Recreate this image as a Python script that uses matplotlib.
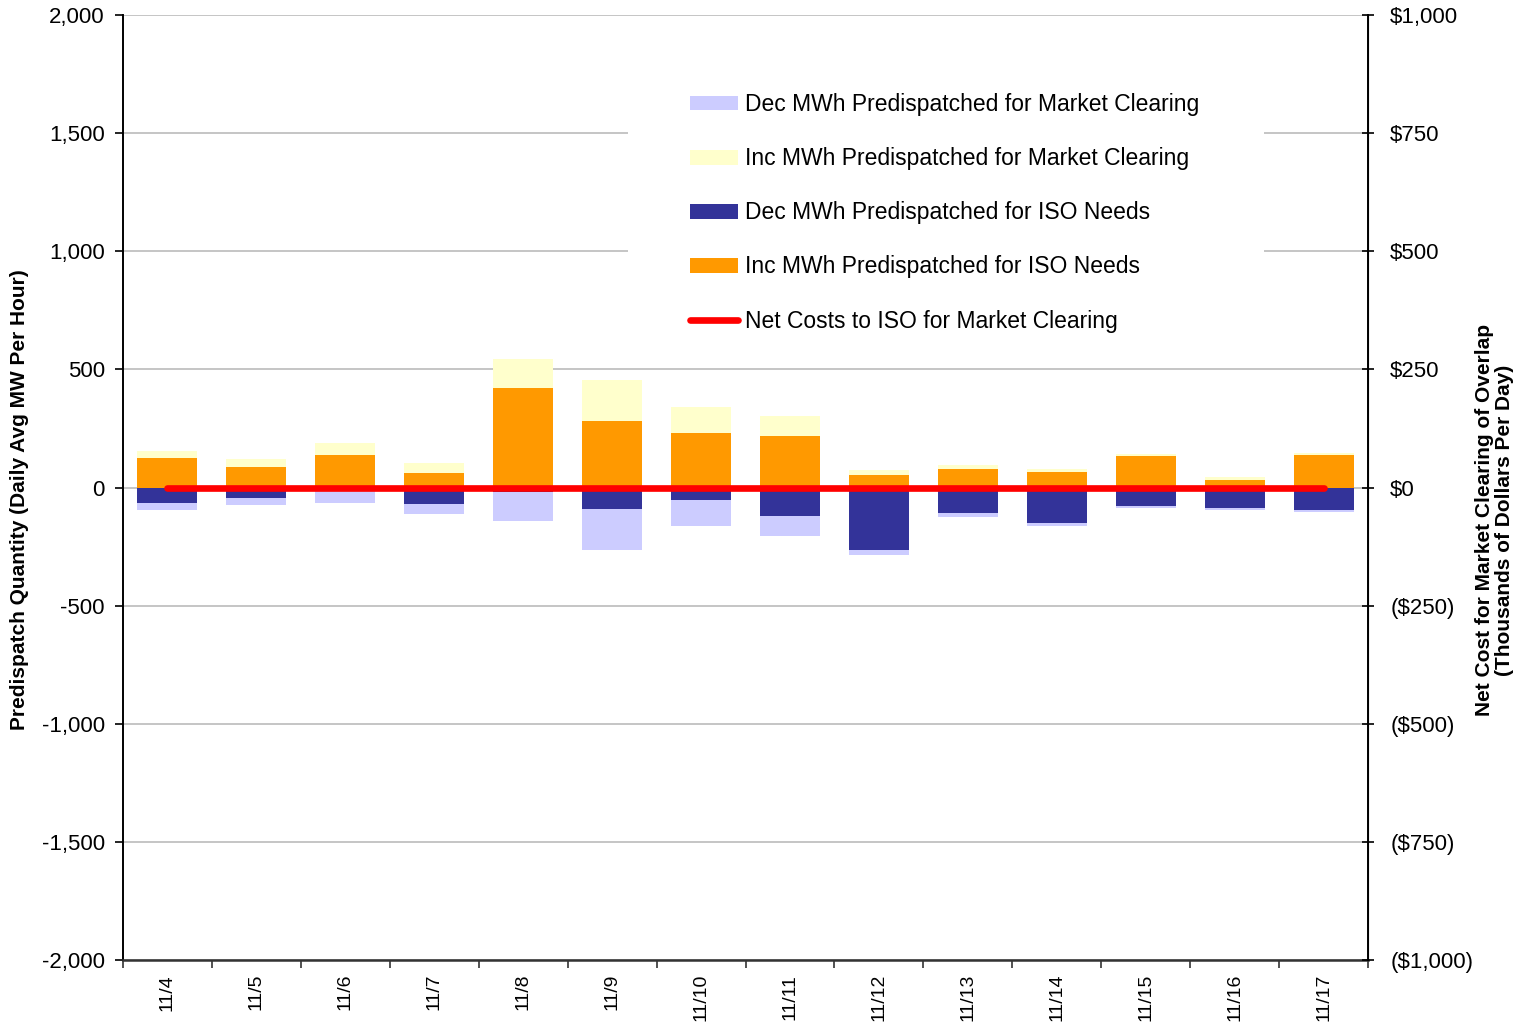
import matplotlib
matplotlib.use("Agg")
import matplotlib.pyplot as plt
import numpy as np
from matplotlib.patches import Patch, Rectangle
from matplotlib.lines import Line2D
from matplotlib.ticker import FuncFormatter, MultipleLocator, FixedLocator

plt.rcParams['font.family'] = ['Liberation Sans', 'DejaVu Sans']

categories = ['11/4', '11/5', '11/6', '11/7', '11/8', '11/9', '11/10',
              '11/11', '11/12', '11/13', '11/14', '11/15', '11/16', '11/17']
inc_iso = [125, 87, 138, 62, 421, 281, 231, 218, 53, 79, 66, 134, 32, 138]
inc_mc = [30, 34, 49, 42, 122, 175, 110, 85, 22, 17, 13, 7, 13, 6]
dec_iso = [-65, -44, -5, -69, -17, -90, -52, -120, -263, -107, -149, -77, -86, -94]
dec_mc = [-29, -29, -60, -42, -124, -173, -110, -84, -21, -17, -13, -9, -8, -9]
net_cost = [0, 0, 0, 0, 0, 0, 0, 0, 0, 0, 0, 0, 0, 0]

labels = ['Dec MWh Predispatched for Market Clearing',
          'Inc MWh Predispatched for Market Clearing',
          'Dec MWh Predispatched for ISO Needs',
          'Inc MWh Predispatched for ISO Needs',
          'Net Costs to ISO for Market Clearing']
c_dec_mc = '#CCCCFF'
c_inc_mc = '#FFFFCC'
c_dec_iso = '#333399'
c_inc_iso = '#FF9900'
c_net = '#FF0000'

fig = plt.figure(figsize=(15.37, 10.25), dpi=100)
ax = fig.add_axes([123/1537, 1-960/1025, (1368-123)/1537, (960-15)/1025])

x = np.arange(len(categories))
w = 0.675
ax.bar(x, inc_iso, w, color=c_inc_iso, zorder=2)
ax.bar(x, inc_mc, w, bottom=inc_iso, color=c_inc_mc, zorder=2)
ax.bar(x, dec_iso, w, color=c_dec_iso, zorder=2)
ax.bar(x, dec_mc, w, bottom=dec_iso, color=c_dec_mc, zorder=2)

ax.set_xlim(-0.5, len(categories) - 0.5)
ax.set_ylim(-2000, 2000)
ax.yaxis.set_major_locator(MultipleLocator(500))
ax.yaxis.set_major_formatter(FuncFormatter(lambda v, p: f"{v:,.0f}"))
ax.grid(axis='y', color='#C0C0C0', linewidth=1.3, zorder=0.5)
ax.set_axisbelow(True)

ax.xaxis.set_major_locator(FixedLocator(np.arange(-0.5, len(categories), 1.0)))
ax.xaxis.set_major_formatter(FuncFormatter(lambda v, p: ''))
ax.set_xticks(x, minor=True)
ax.set_xticklabels(categories, minor=True, rotation=90, fontsize=14)
ax.tick_params(axis='x', which='minor', length=0, pad=10)
ax.tick_params(axis='x', which='major', length=6, width=1.2, direction='out', color='#333333')
ax.tick_params(axis='y', length=6, width=1.2, direction='out', labelsize=16, pad=7)

ax.spines['top'].set_visible(False)
ax.spines['left'].set_linewidth(1.4)
ax.spines['bottom'].set_linewidth(1.8)
ax.spines['bottom'].set_color('#333333')

ax.set_ylabel('Predispatch Quantity (Daily Avg MW Per Hour)', fontsize=15,
              fontweight='bold')
ax.yaxis.set_label_coords((29-123)/1245, (960-500)/945)

# white background behind legend (hides gridlines)
ax.add_patch(Rectangle((628/1537, 1-345/1025), (1264-628)/1537, (345-70)/1025,
                       transform=fig.transFigure, facecolor='white',
                       edgecolor='none', zorder=1))

ax2 = ax.twinx()
ax2.set_ylim(-1000, 1000)
ax2.yaxis.set_major_locator(MultipleLocator(250))

def money(v, p):
    if v < 0:
        return f"(${-v:,.0f})"
    return f"${v:,.0f}"

ax2.yaxis.set_major_formatter(FuncFormatter(money))
ax2.tick_params(axis='y', length=8, width=1.2, direction='inout', labelsize=16, pad=12)
ax2.plot(x, net_cost, color=c_net, linewidth=4.8, solid_capstyle='round', zorder=3)
for s in ['top', 'left', 'bottom']:
    ax2.spines[s].set_visible(False)
ax2.spines['right'].set_linewidth(1.4)
ax2.set_ylabel('Net Cost for Market Clearing of Overlap\n(Thousands of Dollars Per Day)',
               fontsize=15, fontweight='bold', rotation=90, linespacing=1.1)
ax2.yaxis.set_label_coords((1475-123)/1245, (960-520)/945)

handles = [Patch(facecolor=c_dec_mc), Patch(facecolor=c_inc_mc),
           Patch(facecolor=c_dec_iso), Patch(facecolor=c_inc_iso),
           Line2D([0], [0], color=c_net, linewidth=4.8, solid_capstyle='round')]
leg = ax2.legend(handles, labels, loc='upper left',
                 bbox_to_anchor=(690/1537, 1-93/1025), bbox_transform=fig.transFigure,
                 frameon=False, fontsize=16.5, handlelength=2.1, handleheight=0.62,
                 handletextpad=0.3, labelspacing=1.36, borderpad=0, borderaxespad=0)

fig.savefig('out.png', dpi=100, facecolor='white')
